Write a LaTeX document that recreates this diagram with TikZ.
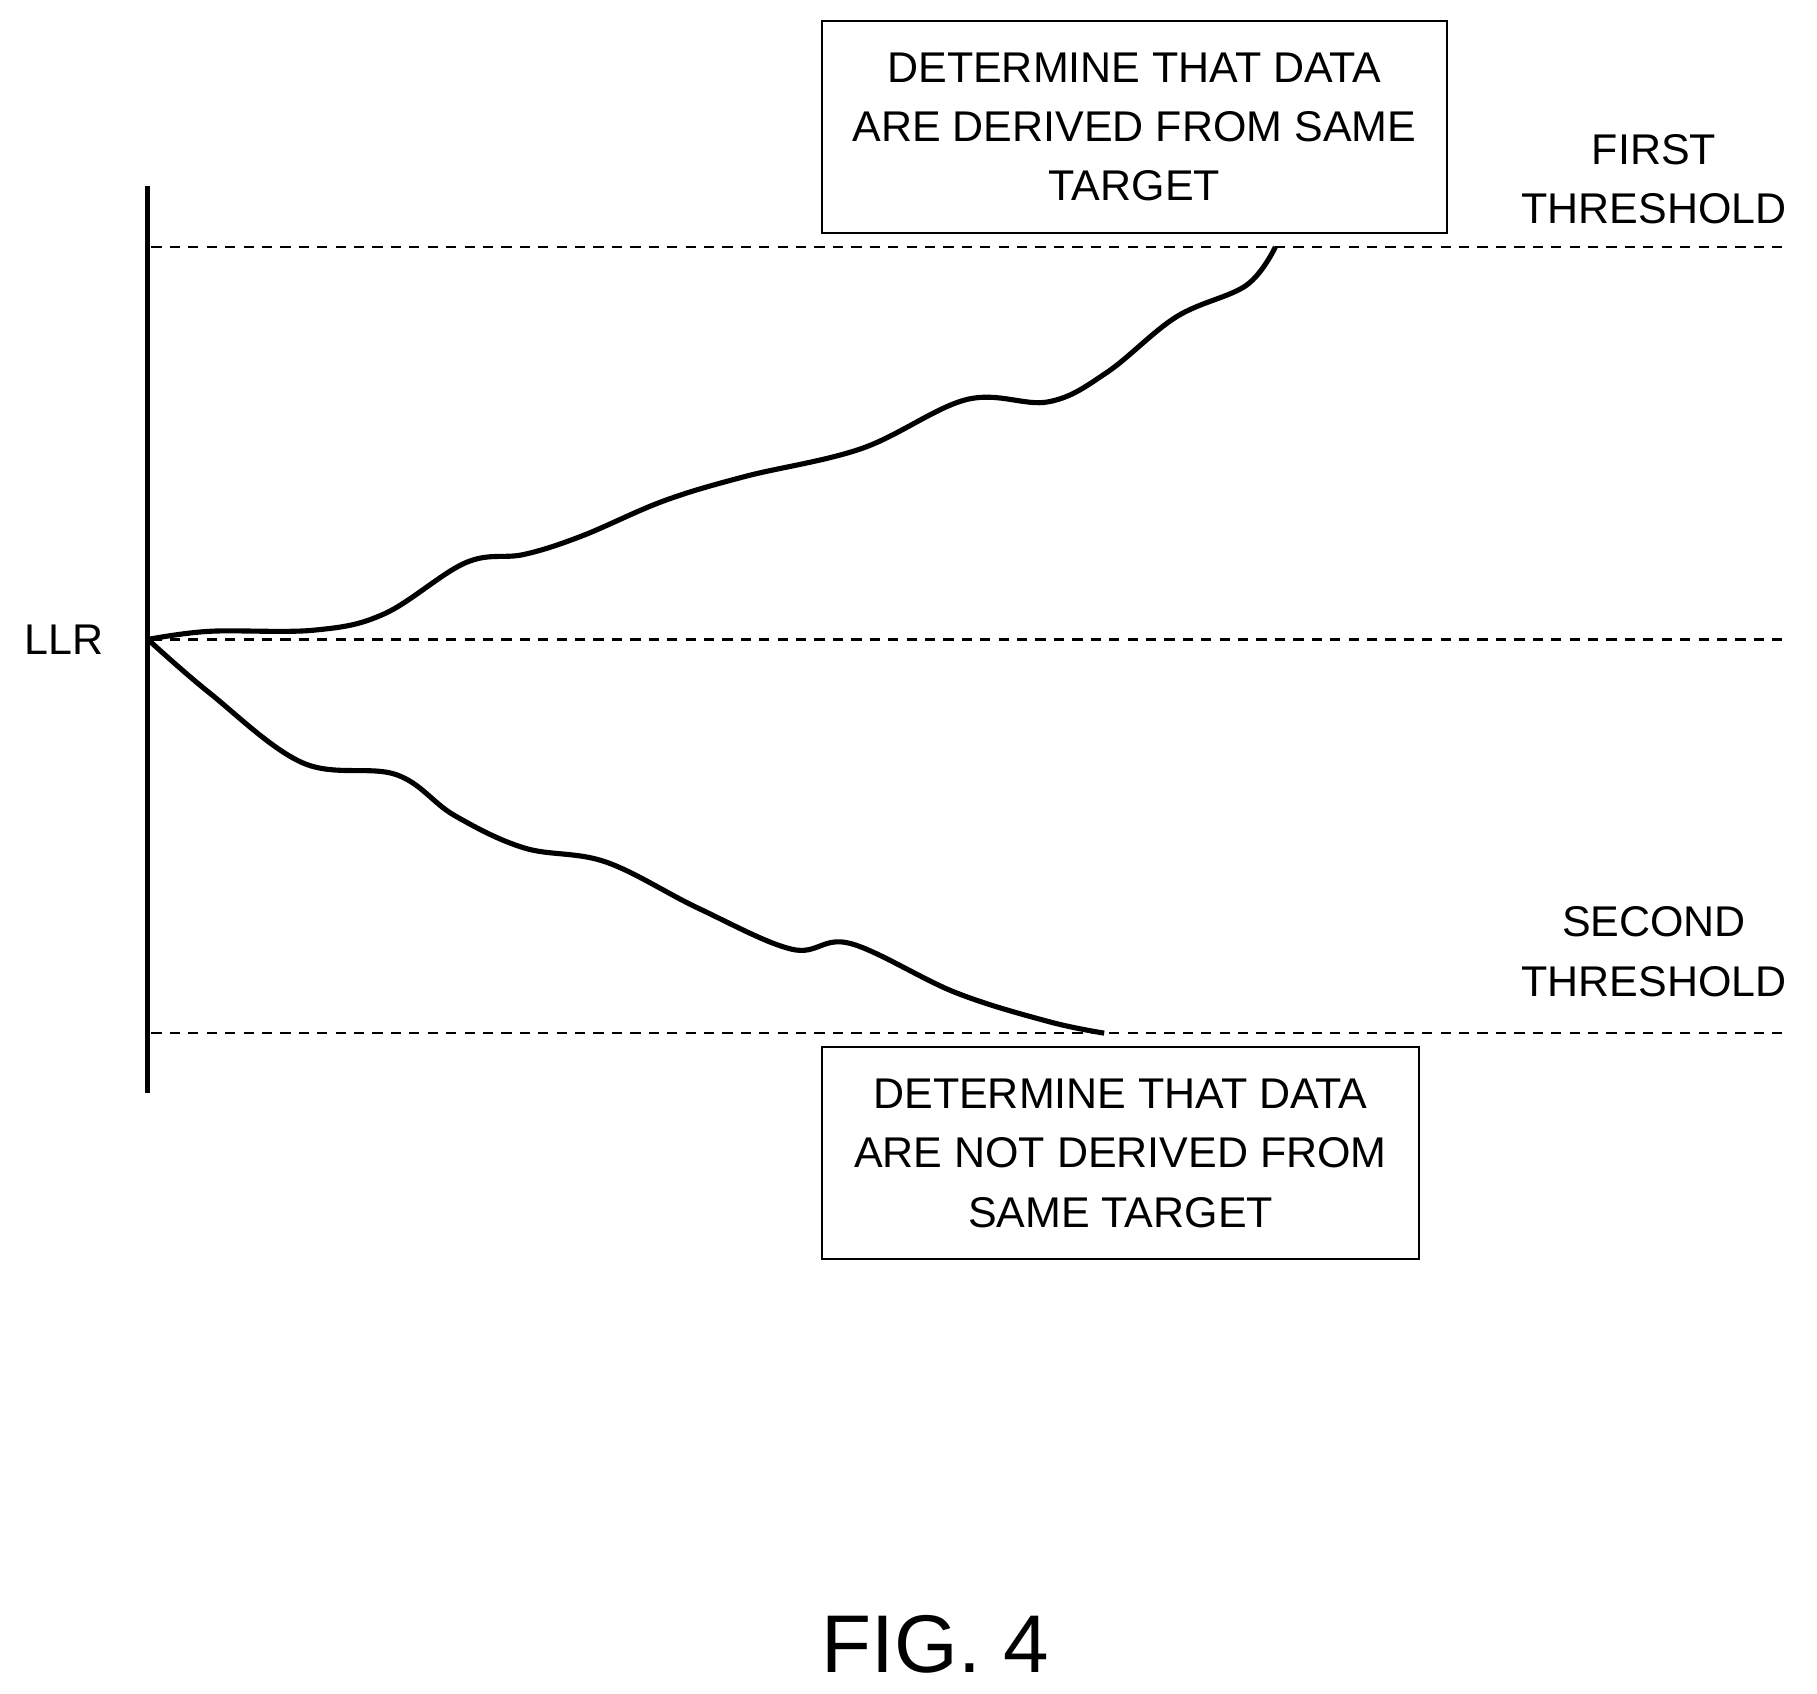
\documentclass[tikz,border=0pt]{standalone}
\usepackage{fontspec}
\setmainfont{Liberation Sans}
\usetikzlibrary{calc}

\begin{document}
\begin{tikzpicture}[x=0.02cm,y=-0.02cm,
  thr/.style={dashed,line width=1.2pt,dash pattern=on 5pt off 4pt},
  decbox/.style={draw,line width=1pt,align=center,font=\fontsize{21}{29}\selectfont,inner sep=0pt,minimum height=3.64cm},
  lbl/.style={align=center,font=\fontsize{21}{29}\selectfont}]
  \useasboundingbox (0,0) rectangle (1560,1454);

  %% Axis and thresholds
  \coordinate (axT) at (127,160);
  \coordinate (axB) at (127,938);
  \draw[line width=2.5pt] (axT) -- (axB);
  \foreach \y/\n in {212/first,549/zero,887/second}
  {
    \coordinate (L\n) at (130,\y);
    \coordinate (R\n) at (1530,\y);
    \draw[thr] (L\n) -- (R\n);
  }

  %% Labels
  \node[lbl] (llr) at (55,549) {LLR};
  \node[lbl] (firstlbl) at (1420,154) {FIRST\\THRESHOLD};
  \node[lbl] (secondlbl) at (1420,817) {SECOND\\THRESHOLD};
  \node[decbox,minimum width=10.72cm] (same) at (974,109)
    {DETERMINE THAT DATA\\ARE DERIVED FROM SAME\\TARGET};
  \node[decbox,minimum width=10.24cm] (notsame) at (962,990)
    {DETERMINE THAT DATA\\ARE NOT DERIVED FROM\\SAME TARGET};
  \node[font=\fontsize{40}{48}\selectfont] (fig) at (803,1412) {FIG. 4};

  %% LLR curves
  \draw[line width=2.5pt] plot[smooth,tension=0.6] coordinates {
    (127,549) (180,542) (270,541) (330,527) (400,483) (450,476) (500,460)
    (570,430) (640,409) (740,385) (830,343) (900,345) (950,320) (1010,272)
    (1070,245) (1095,212)};
  \draw[line width=2.5pt] plot[smooth,tension=0.6] coordinates {
    (127,549) (180,595) (260,655) (340,665) (390,700) (450,728) (520,740)
    (600,780) (680,815) (730,810) (820,852) (900,877) (948,887)};
\end{tikzpicture}
\end{document}
